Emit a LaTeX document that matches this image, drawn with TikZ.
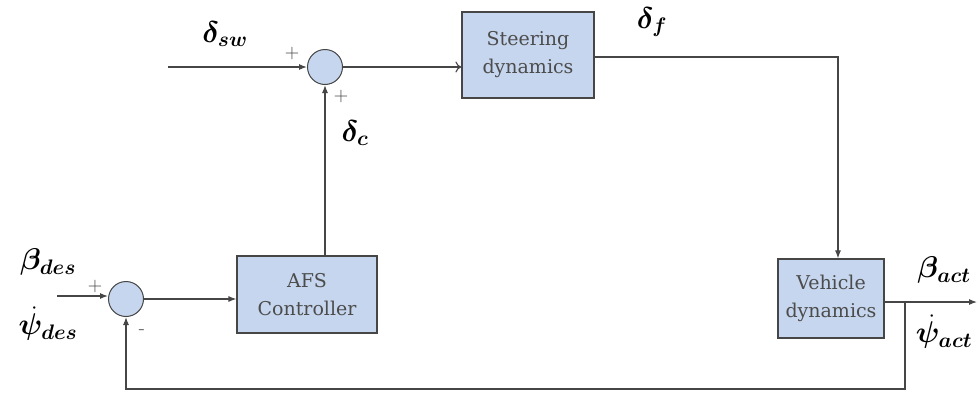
\RequirePackage{fix-cm}
\documentclass[tikz,border=0pt]{standalone}
\usepackage{amsmath,bm}
\usepackage{fontspec}
\newfontfamily\boxfont{DejaVu Serif}
\usetikzlibrary{arrows.meta}
\definecolor{boxblue}{RGB}{198,214,238}
\definecolor{linegray}{RGB}{70,70,70}
\begin{document}
\begin{tikzpicture}[x=1pt,y=-1pt,
  blk/.style={draw=linegray,fill=boxblue,line width=1.2pt,inner sep=0pt,font=\boxfont\fontsize{19}{28}\selectfont,text=black!70,align=center},
  sumc/.style={circle,draw=linegray,fill=boxblue,line width=1pt,minimum size=35pt,inner sep=0pt},
  conn/.style={draw=linegray,line width=1.1pt},
  arr/.style={conn,-{Latex[length=8pt,width=6pt]}},
  oarr/.style={conn,-{To[length=6pt,width=11pt]}},
  lbl/.style={font=\fontsize{30}{34}\selectfont,inner sep=0pt},
  sgn/.style={font=\fontsize{20}{22}\selectfont,text=black!75}]
\useasboundingbox (0,0) rectangle (979,394);
% nodes
\node[sumc] (s1) at (325,67) {};
\node[sumc] (s2) at (126,299) {};
\node[blk,minimum width=132pt,minimum height=86pt] (steer) at (528,55) {Steering\\dynamics};
\node[blk,minimum width=140pt,minimum height=77pt] (afs) at (307,294.5) {AFS\\Controller};
\node[blk,minimum width=106pt,minimum height=79pt] (veh) at (831,298.5) {Vehicle\\dynamics};
\coordinate (in1) at (168,67);
\coordinate (in2) at (57,296);
\coordinate (corner1) at (838,57);
\coordinate (branch) at (905,302);
\coordinate (out) at (977,302);
\coordinate (fbR) at (905,389);
\coordinate (fbL) at (126,389);
% connectors
\draw[arr] (in1) -- (s1.west);
\draw[oarr] (s1.east) -- (s1.east -| steer.west);
\draw[arr] (steer.east |- corner1) -- (corner1) -- (corner1 |- veh.north);
\draw[arr] (veh.east |- branch) -- (out);
\draw[arr] (branch) -- (fbR) -- (fbL) -- (s2.south);
\draw[arr] (in2) -- (in2 -| s2.west);
\draw[arr] (s2.east) -- (s2.east -| afs.west);
\draw[arr] (afs.north -| s1.south) -- (s1.south);
% labels
\node[lbl] (dsw) at (225,34) {$\bm{\delta}_{\bm{sw}}$};
\node[lbl] (dc) at (355,133) {$\bm{\delta}_{\bm{c}}$};
\node[lbl] (df) at (652,22) {$\bm{\delta}_{\bm{f}}$};
\node[lbl] (bdes) at (48,262) {$\bm{\beta}_{\bm{des}}$};
\node[lbl] (pdes) at (48,324) {$\dot{\bm{\psi}}_{\bm{des}}$};
\node[lbl] (bact) at (944,270) {$\bm{\beta}_{\bm{act}}$};
\node[lbl] (pact) at (944,332) {$\dot{\bm{\psi}}_{\bm{act}}$};
\node[sgn] (p1) at (292,53) {$+$};
\node[sgn] (p2) at (341,96) {$+$};
\node[sgn] (p3) at (95,286) {$+$};
\node[sgn] (m1) at (142,332) {-};
\end{tikzpicture}
\end{document}
